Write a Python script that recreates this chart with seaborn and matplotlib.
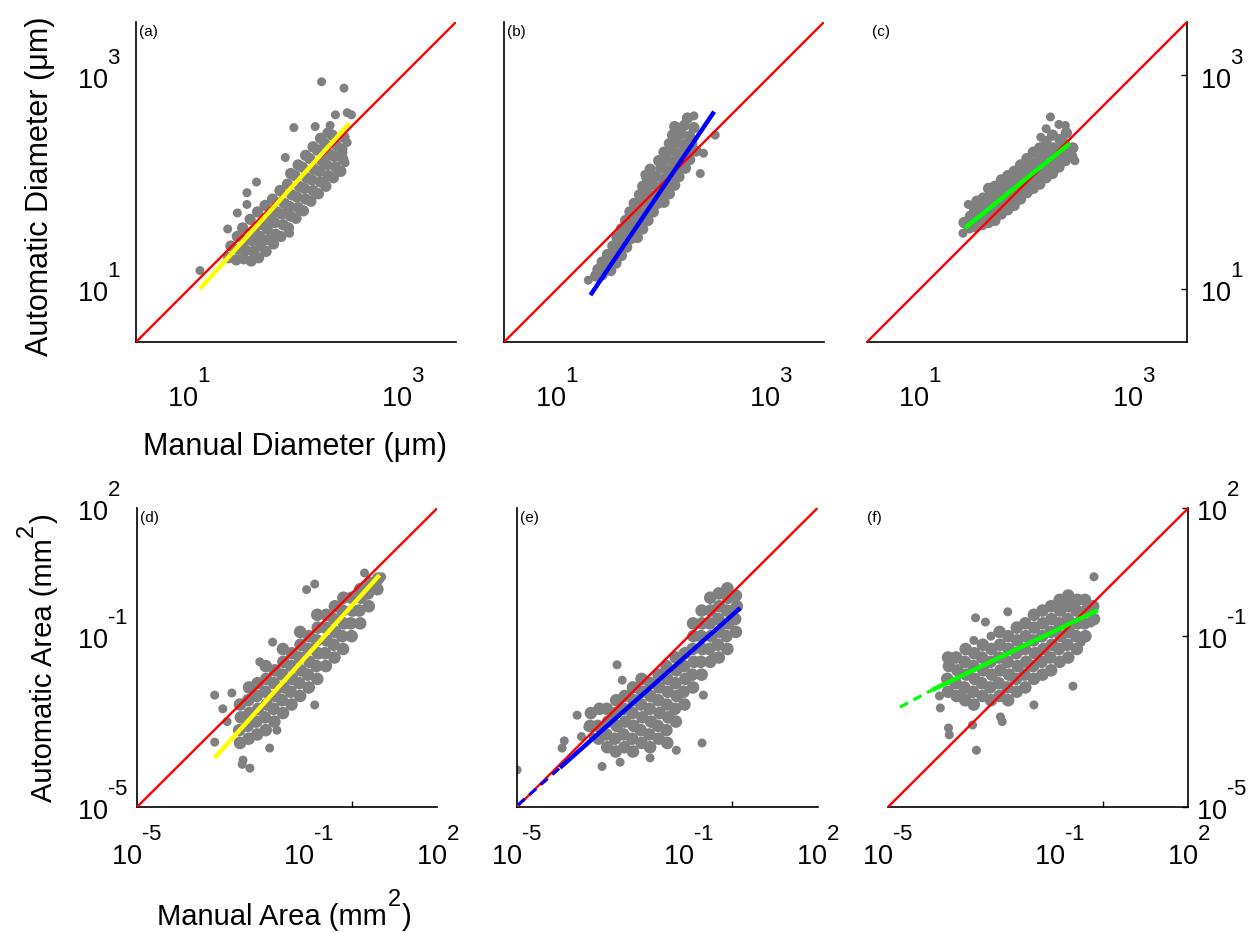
import numpy as np
import matplotlib
matplotlib.use("Agg")
import matplotlib.pyplot as plt
import matplotlib.ticker as mticker
import matplotlib.transforms as mtransforms
import matplotlib._mathtext as mathtext_internals
import seaborn as sns

# All values are log10 of the plotted quantity.
# *_core: the dense part of each cloud, *_out: the scattered points around it.

# (a) diameter, method 1
a_core = [
    (1.37, 1.29), (1.39, 1.40),
    (1.44, 1.27), (1.46, 1.37), (1.45, 1.49),
    (1.51, 1.28), (1.53, 1.36), (1.52, 1.45), (1.50, 1.57),
    (1.58, 1.26), (1.60, 1.35), (1.59, 1.45), (1.61, 1.54), (1.57, 1.65),
    (1.65, 1.29), (1.67, 1.40), (1.66, 1.49), (1.68, 1.60), (1.64, 1.72),
    (1.72, 1.35), (1.74, 1.46), (1.73, 1.56), (1.75, 1.66), (1.71, 1.78),
    (1.79, 1.42), (1.81, 1.51), (1.80, 1.62), (1.82, 1.72), (1.78, 1.84),
    (1.86, 1.49), (1.88, 1.60), (1.87, 1.70), (1.89, 1.80), (1.85, 1.92),
    (1.93, 1.57), (1.95, 1.68), (1.94, 1.77), (1.96, 1.88), (1.92, 1.98), (1.95, 2.08),
    (2.00, 1.66), (2.02, 1.76), (2.01, 1.86), (2.03, 1.96), (1.99, 2.06), (2.02, 2.16),
    (2.07, 1.73), (2.09, 1.84), (2.08, 1.94), (2.10, 2.04), (2.06, 2.14), (2.09, 2.25),
    (2.14, 1.82), (2.16, 1.92), (2.15, 2.02), (2.17, 2.12), (2.13, 2.22), (2.16, 2.33),
    (2.21, 1.89), (2.23, 2.00), (2.22, 2.10), (2.24, 2.20), (2.20, 2.30), (2.23, 2.41),
    (2.28, 1.96), (2.30, 2.06), (2.29, 2.16), (2.31, 2.26), (2.27, 2.36), (2.30, 2.46),
    (2.35, 2.04), (2.37, 2.14), (2.36, 2.24), (2.38, 2.34), (2.34, 2.44),
    (2.42, 2.10), (2.44, 2.21), (2.43, 2.31), (2.45, 2.42),
]
a_out = [
    (2.24, 2.94), (2.45, 2.88), (2.48, 2.65), (2.52, 2.63), (2.37, 2.63),
    (1.98, 2.51), (2.18, 2.52), (2.32, 2.53), (2.48, 2.37), (2.44, 2.27),
    (2.46, 2.18), (1.90, 2.23), (1.63, 2.00), (1.54, 1.90), (1.45, 1.71),
    (1.36, 1.56), (1.10, 1.17), (1.94, 1.52), (1.54, 1.79),
]
a_fit_x = [1.10, 2.50]
a_fit_y = [1.00, 2.55]

# (b) diameter, method 2
b_core = [
    (1.36, 1.12), (1.42, 1.13),
    (1.38, 1.18), (1.45, 1.19), (1.50, 1.17),
    (1.42, 1.25), (1.48, 1.26), (1.55, 1.24),
    (1.47, 1.32), (1.53, 1.33), (1.60, 1.31),
    (1.52, 1.40), (1.58, 1.41), (1.65, 1.39),
    (1.56, 1.48), (1.62, 1.49), (1.69, 1.47), (1.75, 1.48),
    (1.60, 1.56), (1.67, 1.57), (1.73, 1.55), (1.80, 1.56),
    (1.64, 1.64), (1.71, 1.65), (1.78, 1.63), (1.85, 1.64),
    (1.68, 1.72), (1.75, 1.73), (1.82, 1.71), (1.90, 1.72),
    (1.72, 1.80), (1.79, 1.81), (1.86, 1.79), (1.94, 1.80), (2.00, 1.81),
    (1.77, 1.88), (1.84, 1.89), (1.91, 1.87), (1.98, 1.88), (2.05, 1.89),
    (1.80, 1.96), (1.88, 1.97), (1.95, 1.95), (2.02, 1.96), (2.10, 1.97),
    (1.84, 2.04), (1.92, 2.05), (2.00, 2.03), (2.07, 2.04), (2.14, 2.05),
    (1.87, 2.12), (1.97, 2.13), (2.04, 2.11), (2.11, 2.12), (2.20, 2.13),
    (1.95, 2.20), (2.02, 2.21), (2.09, 2.19), (2.16, 2.20), (2.24, 2.21),
    (2.00, 2.28), (2.07, 2.29), (2.14, 2.27), (2.21, 2.28), (2.30, 2.29),
    (2.05, 2.36), (2.12, 2.37), (2.19, 2.35), (2.26, 2.36),
    (2.08, 2.44), (2.16, 2.45), (2.24, 2.43),
    (2.10, 2.52), (2.19, 2.53), (2.28, 2.51),
    (2.22, 2.60),
]
b_out = [(1.29, 1.08), (2.34, 2.08), (2.37, 2.27), (2.48, 2.44), (2.28, 2.62), (1.82, 2.07)]
b_fit_x = [1.31, 2.47]
b_fit_y = [0.94, 2.66]

# (c) diameter, method 3
c_core = [
    (1.41, 1.62),
    (1.46, 1.57), (1.47, 1.68),
    (1.52, 1.58), (1.53, 1.66), (1.51, 1.74), (1.53, 1.82),
    (1.58, 1.60), (1.59, 1.68), (1.57, 1.76), (1.59, 1.85),
    (1.64, 1.62), (1.65, 1.70), (1.63, 1.78), (1.65, 1.86), (1.64, 1.94),
    (1.70, 1.64), (1.71, 1.72), (1.69, 1.80), (1.71, 1.88), (1.70, 1.96),
    (1.76, 1.70), (1.77, 1.78), (1.75, 1.86), (1.77, 1.94), (1.76, 2.02),
    (1.82, 1.74), (1.83, 1.82), (1.81, 1.90), (1.83, 1.98), (1.82, 2.06),
    (1.88, 1.78), (1.89, 1.86), (1.87, 1.94), (1.89, 2.02), (1.88, 2.10),
    (1.94, 1.84), (1.95, 1.92), (1.93, 2.00), (1.95, 2.08), (1.94, 2.16),
    (2.00, 1.90), (2.01, 1.98), (1.99, 2.06), (2.01, 2.14), (2.00, 2.22),
    (2.06, 1.94), (2.07, 2.02), (2.05, 2.10), (2.07, 2.18), (2.06, 2.28),
    (2.12, 1.98), (2.13, 2.06), (2.11, 2.14), (2.13, 2.22), (2.12, 2.32),
    (2.18, 2.04), (2.19, 2.12), (2.17, 2.20), (2.19, 2.28), (2.18, 2.38),
    (2.24, 2.08), (2.25, 2.16), (2.23, 2.24), (2.25, 2.32), (2.24, 2.44),
    (2.30, 2.14), (2.31, 2.22), (2.29, 2.30), (2.31, 2.40),
    (2.36, 2.20), (2.37, 2.28), (2.35, 2.36), (2.37, 2.46),
    (2.42, 2.24), (2.43, 2.32),
]
c_out = [(1.40, 1.52), (1.45, 1.79), (2.13, 2.42), (2.18, 2.50), (2.22, 2.61),
         (2.30, 2.54), (2.36, 2.53), (2.45, 2.20)]
c_fit_x = [1.42, 2.40]
c_fit_y = [1.57, 2.36]

# (d) area, method 1
d_core = [
    (-2.60, -3.5), (-2.62, -3.2), (-2.58, -2.9), (-2.60, -2.6),
    (-2.40, -3.4), (-2.42, -3.1), (-2.38, -2.8), (-2.41, -2.5), (-2.39, -2.2),
    (-2.20, -3.3), (-2.22, -3.0), (-2.18, -2.7), (-2.21, -2.4), (-2.19, -2.1),
    (-2.00, -3.2), (-2.02, -2.9), (-1.98, -2.6), (-2.01, -2.3), (-1.99, -2.0), (-2.00, -1.7),
    (-1.80, -3.0), (-1.82, -2.7), (-1.78, -2.4), (-1.81, -2.1), (-1.79, -1.8),
    (-1.60, -2.8), (-1.62, -2.5), (-1.58, -2.2), (-1.61, -1.9), (-1.59, -1.6), (-1.60, -1.3),
    (-1.40, -2.6), (-1.42, -2.3), (-1.38, -2.0), (-1.41, -1.7), (-1.39, -1.4),
    (-1.20, -2.4), (-1.22, -2.1), (-1.18, -1.8), (-1.21, -1.5), (-1.19, -1.2), (-1.20, -0.9),
    (-1.00, -2.2), (-1.02, -1.9), (-0.98, -1.6), (-1.01, -1.3), (-0.99, -1.0),
    (-0.80, -2.0), (-0.82, -1.7), (-0.78, -1.4), (-0.81, -1.1), (-0.79, -0.8), (-0.80, -0.5),
    (-0.60, -1.7), (-0.62, -1.4), (-0.58, -1.1), (-0.61, -0.8), (-0.59, -0.5),
    (-0.40, -1.5), (-0.42, -1.2), (-0.38, -0.9), (-0.41, -0.6), (-0.39, -0.3),
    (-0.20, -1.3), (-0.22, -1.0), (-0.18, -0.7), (-0.21, -0.4), (-0.19, -0.1),
    (0.00, -1.0), (-0.02, -0.7), (0.02, -0.4), (0.00, -0.1),
    (0.20, -0.7), (0.18, -0.4), (0.22, -0.1), (0.20, 0.1),
    (0.40, -0.3), (0.38, 0.0), (0.42, 0.25),
    (0.60, 0.1), (0.62, 0.35),
]
d_out = [
    (-3.19, -2.38), (-2.79, -2.33), (-3.19, -3.48), (-2.53, -3.90), (-2.37, -4.09),
    (-2.55, -4.00), (-1.91, -3.62), (-1.74, -3.20), (-0.86, -2.61), (-1.84, -1.14),
    (-2.14, -1.60), (-0.86, 0.22), (-1.05, 0.09), (0.30, 0.48), (0.70, 0.39),
    (-2.90, -3.00), (-3.00, -2.70),
]
d_fit_x = [-3.19, 0.65]
d_fit_y = [-3.85, 0.43]

# (e) area, method 2
e_core = [
    (-3.30, -3.1), (-3.28, -2.8),
    (-3.10, -3.4), (-3.12, -3.1), (-3.08, -2.7),
    (-2.90, -3.6), (-2.92, -3.3), (-2.88, -3.0), (-2.91, -2.7),
    (-2.70, -3.7), (-2.72, -3.4), (-2.68, -3.1), (-2.71, -2.8), (-2.69, -2.5),
    (-2.50, -3.6), (-2.52, -3.3), (-2.48, -3.0), (-2.51, -2.7), (-2.49, -2.4),
    (-2.30, -3.7), (-2.32, -3.4), (-2.28, -3.1), (-2.31, -2.8), (-2.29, -2.5), (-2.30, -2.2),
    (-2.10, -3.5), (-2.12, -3.2), (-2.08, -2.9), (-2.11, -2.6), (-2.09, -2.3), (-2.10, -2.0),
    (-1.90, -3.6), (-1.92, -3.3), (-1.88, -3.0), (-1.91, -2.7), (-1.89, -2.4), (-1.90, -2.1),
    (-1.70, -3.4), (-1.72, -3.1), (-1.68, -2.8), (-1.71, -2.5), (-1.69, -2.2), (-1.70, -1.9),
    (-1.50, -3.5), (-1.52, -3.2), (-1.48, -2.9), (-1.51, -2.6), (-1.49, -2.3), (-1.50, -2.0), (-1.52, -1.7),
    (-1.30, -3.0), (-1.32, -2.7), (-1.28, -2.4), (-1.31, -2.1), (-1.29, -1.8), (-1.30, -1.5),
    (-1.10, -2.6), (-1.12, -2.3), (-1.08, -2.0), (-1.11, -1.7), (-1.09, -1.4),
    (-0.90, -2.2), (-0.92, -1.9), (-0.88, -1.6), (-0.91, -1.3), (-0.89, -1.0), (-0.90, -0.7),
    (-0.70, -1.9), (-0.72, -1.6), (-0.68, -1.3), (-0.71, -1.0), (-0.69, -0.7), (-0.70, -0.4),
    (-0.50, -1.6), (-0.52, -1.3), (-0.48, -1.0), (-0.51, -0.7), (-0.49, -0.4), (-0.50, -0.1),
    (-0.30, -1.5), (-0.32, -1.2), (-0.28, -0.9), (-0.31, -0.6), (-0.29, -0.3), (-0.30, 0.0),
    (-0.10, -1.3), (-0.12, -1.0), (-0.08, -0.7), (-0.11, -0.4), (-0.09, -0.1), (-0.10, 0.12),
    (0.10, -0.9), (0.08, -0.6), (0.12, -0.3), (0.10, -0.05),
]
e_out = [
    (-5.00, -4.13), (-3.95, -3.62), (-3.60, -2.85), (-3.35, -3.13), (-3.23, -3.36),
    (-3.50, -3.35), (-2.67, -1.67), (-2.55, -2.03), (-0.69, -3.50), (-1.29, -3.67),
    (-3.02, -4.05), (-2.60, -3.95), (-1.90, -3.85), (-0.66, -2.38), (-0.43, -1.49),
    (-3.90, -3.45),
]
e_fit_x = [-4.00, 0.20]
e_fit_y = [-4.08, -0.34]
e_dash_x = [-4.98, -4.00]
e_dash_y = [-4.95, -4.08]

# (f) area, method 3
f_core = [
    (-3.60, -2.3), (-3.62, -2.0), (-3.58, -1.7), (-3.60, -1.5),
    (-3.40, -2.4), (-3.42, -2.1), (-3.38, -1.8), (-3.41, -1.5),
    (-3.20, -2.5), (-3.22, -2.2), (-3.18, -1.9), (-3.21, -1.6), (-3.19, -1.3),
    (-3.00, -2.6), (-3.02, -2.3), (-2.98, -2.0), (-3.01, -1.7), (-2.99, -1.4),
    (-2.80, -2.4), (-2.82, -2.1), (-2.78, -1.8), (-2.81, -1.5), (-2.79, -1.2),
    (-2.60, -2.5), (-2.62, -2.2), (-2.58, -1.9), (-2.61, -1.6), (-2.59, -1.3),
    (-2.40, -2.4), (-2.42, -2.1), (-2.38, -1.8), (-2.41, -1.5), (-2.39, -1.2), (-2.40, -0.9),
    (-2.20, -2.5), (-2.22, -2.2), (-2.18, -1.9), (-2.21, -1.6), (-2.19, -1.3), (-2.20, -1.0),
    (-2.00, -2.3), (-2.02, -2.0), (-1.98, -1.7), (-2.01, -1.4), (-1.99, -1.1), (-2.00, -0.8),
    (-1.80, -2.2), (-1.82, -1.9), (-1.78, -1.6), (-1.81, -1.3), (-1.79, -1.0), (-1.80, -0.7),
    (-1.60, -2.0), (-1.62, -1.7), (-1.58, -1.4), (-1.61, -1.1), (-1.59, -0.8), (-1.60, -0.5),
    (-1.40, -1.9), (-1.42, -1.6), (-1.38, -1.3), (-1.41, -1.0), (-1.39, -0.7), (-1.40, -0.4),
    (-1.20, -1.8), (-1.22, -1.5), (-1.18, -1.2), (-1.21, -0.9), (-1.19, -0.6), (-1.20, -0.3),
    (-1.00, -1.6), (-1.02, -1.3), (-0.98, -1.0), (-1.01, -0.7), (-0.99, -0.4), (-1.00, -0.15),
    (-0.80, -1.5), (-0.82, -1.2), (-0.78, -0.9), (-0.81, -0.6), (-0.79, -0.3), (-0.80, -0.05),
    (-0.60, -1.3), (-0.62, -1.0), (-0.58, -0.7), (-0.61, -0.4), (-0.59, -0.15),
    (-0.40, -1.0), (-0.42, -0.7), (-0.38, -0.4), (-0.41, -0.15),
    (-0.20, -0.6), (-0.22, -0.3),
]
f_out = [
    (-0.20, 0.39), (-2.96, -0.57), (-2.73, -0.67), (-2.21, -0.43), (-3.38, -1.81),
    (-3.78, -2.68), (-3.59, -3.15), (-3.57, -3.31), (-2.94, -3.67), (-3.03, -3.08),
    (-2.38, -2.89), (-2.34, -3.00), (-0.69, -2.17), (-1.60, -2.61), (-0.27, -0.69),
    (-0.50, -1.14), (-3.24, -2.42), (-3.80, -2.40), (-3.00, -1.10), (-2.60, -1.00),
]
f_fit_x = [-3.97, -0.11]
f_fit_y = [-2.26, -0.39]
f_dash_x = [-4.72, -3.97]
f_dash_y = [-2.66, -2.26]

diam_lims = [10 ** 0.5, 10 ** 3.5]
area_lims = [1e-5, 1e2]
diam_ticks = [1e1, 1e3]
diam_labels = ["$10^{1}$", "$10^{3}$"]
area_ticks = [1e-5, 1e-1, 1e2]
area_labels = ["$10^{\u20105}$", "$10^{\u20101}$", "$10^{2}$"]

GREY = "#808080"

sns.set_style("white")
plt.rcParams["font.family"] = ["Liberation Sans", "DejaVu Sans"]
plt.rcParams["mathtext.fontset"] = "custom"
plt.rcParams["mathtext.rm"] = "Liberation Sans"
plt.rcParams["mathtext.it"] = "Liberation Sans:italic"
plt.rcParams["mathtext.bf"] = "Liberation Sans:bold"
for key in ("text.color", "axes.labelcolor", "xtick.color", "ytick.color"):
    plt.rcParams[key] = "black"
# tick exponents sit high above the base and are fairly big, as in the original export
mathtext_internals.FontConstantsBase.sup1 = 1.6
mathtext_internals.SHRINK_FACTOR = 0.82


def draw_panel(ax, core, out, fit_x, fit_y, color, lims, core_size, dash=None):
    cx, cy = zip(*core)
    ox, oy = zip(*out)
    sns.scatterplot(x=10 ** np.array(cx), y=10 ** np.array(cy), ax=ax, s=core_size,
                    color=GREY, edgecolor="none", linewidth=0, legend=False, zorder=2)
    sns.scatterplot(x=10 ** np.array(ox), y=10 ** np.array(oy), ax=ax, s=42,
                    color=GREY, edgecolor="none", linewidth=0, legend=False, zorder=2)
    ax.set_xscale("log")
    ax.set_yscale("log")
    ax.plot(lims, lims, color="#ff0000", lw=1.7, zorder=3, solid_capstyle="butt")
    ax.plot(10 ** np.array(fit_x), 10 ** np.array(fit_y), color=color, lw=3.2,
            zorder=4, solid_capstyle="butt")
    if dash is not None:
        ax.plot(10 ** np.array(dash[0]), 10 ** np.array(dash[1]), color=color, lw=2.2,
                ls=(0, (3, 2)), zorder=4)
    ax.set_xlim(lims)
    ax.set_ylim(lims)


def style_axes(ax, ticks, labels, side, show_ylabels, xpad, ypad):
    ax.xaxis.set_minor_locator(mticker.NullLocator())
    ax.yaxis.set_minor_locator(mticker.NullLocator())
    ax.set_xticks(ticks, labels)
    ax.set_yticks(ticks, labels if show_ylabels else [""] * len(ticks))
    ax.tick_params(axis="x", length=0, pad=xpad, labelsize=19.5)
    ax.tick_params(axis="y", direction="in", length=4, width=1, pad=ypad, labelsize=19.5)
    for s in ax.spines.values():
        s.set_color("black")
        s.set_linewidth(1.2)
    if side == "left":
        sns.despine(ax=ax)
    else:
        sns.despine(ax=ax, left=True, right=False)
        ax.yaxis.tick_right()
        ax.tick_params(axis="y", which="both", left=False, right=True)
    if show_ylabels:
        lift = mtransforms.ScaledTranslation(0, 4 / 72, ax.figure.dpi_scale_trans)
        for t in ax.get_yticklabels():
            t.set_horizontalalignment("left")
            t.set_transform(t.get_transform() + lift)


fig = plt.figure(figsize=(12.51, 9.33), dpi=100)

top_b, top_h, top_w = 0.6334, 0.3430, 0.2558
bot_b, bot_h, bot_w = 0.1350, 0.3205, 0.2402
ax_a = fig.add_axes([0.1087, top_b, top_w, top_h])
ax_b = fig.add_axes([0.4029, top_b, top_w, top_h])
ax_c = fig.add_axes([0.6930, top_b, top_w, top_h])
ax_d = fig.add_axes([0.1095, bot_b, bot_w, bot_h])
ax_e = fig.add_axes([0.4133, bot_b, bot_w, bot_h])
ax_f = fig.add_axes([0.7098, bot_b, bot_w, bot_h])

draw_panel(ax_a, a_core, a_out, a_fit_x, a_fit_y, "#ffff00", diam_lims, 66)
draw_panel(ax_b, b_core, b_out, b_fit_x, b_fit_y, "#0000ff", diam_lims, 66)
draw_panel(ax_c, c_core, c_out, c_fit_x, c_fit_y, "#00ff00", diam_lims, 66)
draw_panel(ax_d, d_core, d_out, d_fit_x, d_fit_y, "#ffff00", area_lims, 82)
draw_panel(ax_e, e_core, e_out, e_fit_x, e_fit_y, "#0000ff", area_lims, 82,
           dash=(e_dash_x, e_dash_y))
draw_panel(ax_f, f_core, f_out, f_fit_x, f_fit_y, "#00ff00", area_lims, 82,
           dash=(f_dash_x, f_dash_y))

style_axes(ax_a, diam_ticks, diam_labels, "left", True, 19.5, 42.5)
style_axes(ax_b, diam_ticks, diam_labels, "left", False, 19.5, 3)
style_axes(ax_c, diam_ticks, diam_labels, "right", True, 19.5, 9.5)
style_axes(ax_d, area_ticks, area_labels, "left", True, 15, 43)
style_axes(ax_e, area_ticks, area_labels, "left", False, 15, 3)
style_axes(ax_f, area_ticks, area_labels, "right", True, 15, 5.5)

for ax in (ax_d, ax_e, ax_f):
    ax.set_xticks([1.0], minor=True)
    ax.tick_params(axis="x", which="minor", direction="in", length=4, width=1,
                   bottom=True, labelbottom=False)

# panel letters
for ax, letter, x in ((ax_a, "(a)", 0.01), (ax_b, "(b)", 0.01), (ax_c, "(c)", 0.015),
                      (ax_d, "(d)", 0.01), (ax_e, "(e)", 0.01), (ax_f, "(f)", -0.07)):
    ax.text(x, 0.99, letter, transform=ax.transAxes, ha="left", va="top", fontsize=11)

# axis titles, top row
fig.text(0.032, 0.800, "Automatic Diameter (\u03bcm)", rotation=90, ha="center",
         va="center", fontsize=22)
fig.text(0.236, 0.521, "Manual Diameter (\u03bcm)", ha="center", va="center", fontsize=22)

# axis titles, bottom row: the squared unit has a big, high exponent, so it is set
# as its own piece of text chained to the end of the label
base_y = (933 - 925) / 933
xlab = fig.text(157 / 1251, base_y, "Manual Area (mm", fontsize=21, ha="left",
                va="baseline")
xsup = ax_d.annotate("2", xy=(1, base_y), xycoords=(xlab, "figure fraction"),
                     xytext=(1.0, 13.7), textcoords="offset points", fontsize=17,
                     ha="left", va="baseline")
ax_d.annotate(")", xy=(1, base_y), xycoords=(xsup, "figure fraction"),
              xytext=(0.5, 0), textcoords="offset points", fontsize=21,
              ha="left", va="baseline")

base_x = 52 / 1251
ylab = fig.text(base_x, (933 - 802) / 933, "Automatic Area (mm", fontsize=21,
                rotation=90, rotation_mode="anchor", ha="left", va="baseline")
ysup = ax_d.annotate("2", xy=(base_x, 1), xycoords=("figure fraction", ylab),
                     xytext=(-13.7, 1.0), textcoords="offset points", fontsize=17,
                     rotation=90, rotation_mode="anchor", ha="left", va="baseline")
ax_d.annotate(")", xy=(base_x, 1), xycoords=("figure fraction", ysup),
              xytext=(0, 0.5), textcoords="offset points", fontsize=21,
              rotation=90, rotation_mode="anchor", ha="left", va="baseline")

fig.savefig("out.png", dpi=100)
